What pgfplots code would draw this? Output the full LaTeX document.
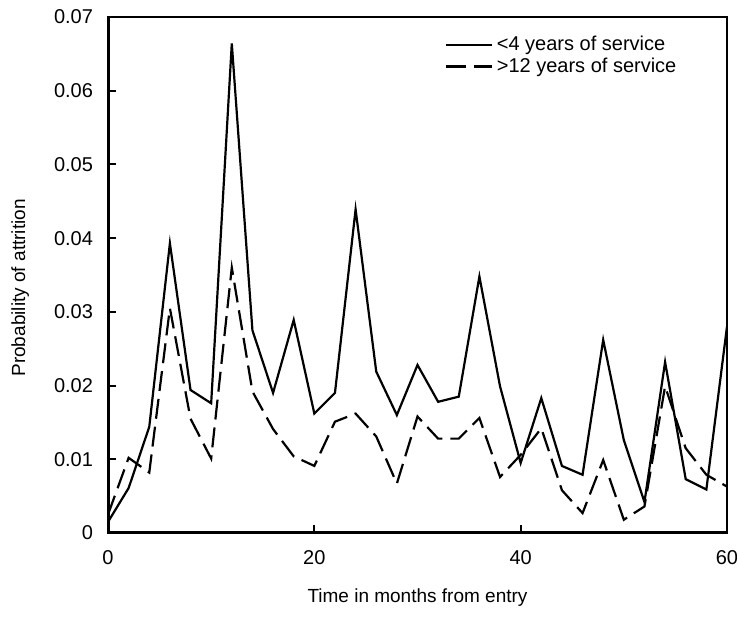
\documentclass[border=0pt]{standalone}
\usepackage{fontspec}
\setmainfont{Liberation Sans}
\usepackage{pgfplots}
\pgfplotsset{compat=1.18}
\begin{document}
\begin{tikzpicture}
\useasboundingbox (-54pt,-43.5pt) rectangle (314.5pt,266.5pt);
\begin{axis}[
  width=309.5pt, height=258pt, scale only axis,
  xmin=0, xmax=60, ymin=0, ymax=0.07,
  scaled y ticks=false, scaled x ticks=false,
  xtick={0,20,40,60}, xticklabels={0,20,40,60},
  ytick={0,0.01,0.02,0.03,0.04,0.05,0.06,0.07},
  yticklabels={0,0.01,0.02,0.03,0.04,0.05,0.06,0.07},
  tick pos=left, tick align=inside, major tick length=4pt,
  axis line style={line width=1pt},
  tick style={line width=1pt, black},
  ticklabel style={font=\fontsize{10}{12}\selectfont},
  yticklabel style={xshift=-4pt},
  xticklabel style={yshift=-5pt},
  xlabel={Time in months from entry},
  ylabel={Probability of attrition},
  label style={font=\fontsize{9.5}{11}\selectfont},
  xlabel style={at={(axis description cs:0.5,-0.126)}, anchor=center},
  ylabel style={at={(axis description cs:-0.142,0.475)}, anchor=center},
  legend style={draw=none, fill=none, at={(axis description cs:0.54,0.975)}, anchor=north west,
    font=\fontsize{10}{12}\selectfont, row sep=-2pt, inner sep=1pt,
    nodes={inner sep=2pt}},
  legend cell align=left,
  legend image code/.code={\draw[#1] (0pt,0pt) -- (23pt,0pt);},
]
\addplot[black, line width=1.1pt] coordinates {
(0,0.0015) (2,0.0061) (4,0.0144) (6,0.0393) (8,0.0194) (10,0.0176) (12,0.0664)
(14,0.0275) (16,0.0190) (18,0.0289) (20,0.0162) (22,0.0190) (24,0.0439) (26,0.0219)
(28,0.0160) (30,0.0228) (32,0.0178) (34,0.0185) (36,0.0348) (38,0.0199) (40,0.0095)
(42,0.0183) (44,0.0091) (46,0.0079) (48,0.0262) (50,0.0126) (52,0.0042) (54,0.0232)
(56,0.0073) (58,0.0059) (60,0.0280)};
\addlegendentry{<4 years of service}
\addplot[black, line width=1.1pt, dash pattern=on 10pt off 4pt] coordinates {
(0,0.0025) (2,0.0102) (4,0.0082) (6,0.0305) (8,0.0155) (10,0.0101) (12,0.0360)
(14,0.0192) (16,0.0141) (18,0.0104) (20,0.0091) (22,0.0151) (24,0.0162) (26,0.0131)
(28,0.0067) (30,0.0158) (32,0.0128) (34,0.0128) (36,0.0156) (38,0.0076) (40,0.0106)
(42,0.0142) (44,0.0058) (46,0.0027) (48,0.0099) (50,0.0018) (52,0.0036) (54,0.0199)
(56,0.0115) (58,0.0079) (60,0.0063)};
\addlegendentry{>12 years of service}
\draw[line width=2.5pt, line cap=rect] (rel axis cs:0,1) -- (rel axis cs:0,0);
\draw[line width=2pt, line cap=rect] (rel axis cs:0,0) -- (rel axis cs:1,0);
\end{axis}
\end{tikzpicture}
\end{document}
